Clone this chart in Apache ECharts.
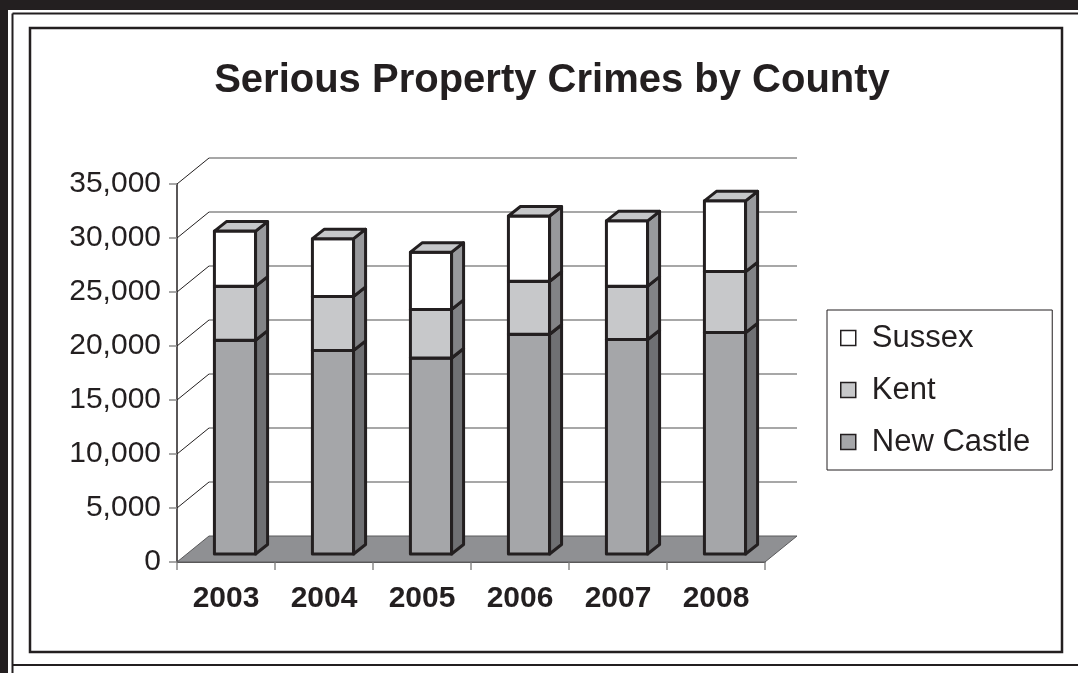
<!DOCTYPE html>
<html>
<head>
<meta charset="utf-8">
<title>Serious Property Crimes by County</title>
<script src="https://cdn.jsdelivr.net/npm/echarts@6/dist/echarts.min.js"></script>
<style>
  html, body { margin: 0; padding: 0; background: #ffffff; }
  #chart { width: 1078px; height: 673px; }
</style>
</head>
<body>
<div id="chart"></div>
<script>
// ---- data ----
const YEARS = ['2003', '2004', '2005', '2006', '2007', '2008'];
const NEW_CASTLE = [19800, 18850, 18150, 20350, 19850, 20500];
const KENT = [5000, 5000, 4500, 4900, 4950, 5650];
const SUSSEX = [5100, 5350, 5300, 6050, 6050, 6550];
const Y_TICKS = [5000, 10000, 15000, 20000, 25000, 30000, 35000];

// ---- look ----
const FONT = "'Liberation Sans', Arial, Helvetica, sans-serif";
const INK = '#231f20';
const WALL_DX = 32, WALL_DY = -26;      // back wall offset (oblique depth)
const BAR_DX = 9, BAR_DY = -8;          // bar front plane offset from front axis
const BAR_SIDE_X = 12, BAR_SIDE_Y = -9.5; // bar depth
const BAR_RATIO = 0.42;

const SERIES_STYLE = {
  'New Castle': { front: '#a5a6a9', side: '#6f7073', top: '#b4b5b8' },
  'Kent':       { front: '#c7c8ca', side: '#828386', top: '#c7c8ca' },
  'Sussex':     { front: '#ffffff', side: '#98999c', top: '#c6c7c9' }
};

// stacked segments [categoryIndex, base, top]
function stackSegments(values, bases) {
  return values.map((v, i) => [i, bases[i], bases[i] + v]);
}
const ncSeg = stackSegments(NEW_CASTLE, YEARS.map(() => 0));
const kentSeg = stackSegments(KENT, NEW_CASTLE);
const sussexSeg = stackSegments(SUSSEX, NEW_CASTLE.map((v, i) => v + KENT[i]));

function barRenderer(name) {
  const st = SERIES_STYLE[name];
  return function (params, api) {
    const i = api.value(0), lo = api.value(1), hi = api.value(2);
    const pLo = api.coord([i, lo]);
    const pHi = api.coord([i, hi]);
    const bw = api.size([1, 0])[0] * BAR_RATIO;
    const xl = pLo[0] + BAR_DX - bw / 2, xr = xl + bw;
    const yb = pLo[1] + BAR_DY, yt = pHi[1] + BAR_DY;
    const stroke = { stroke: INK, lineWidth: 3, lineJoin: 'round' };
    return {
      type: 'group',
      children: [
        { type: 'polygon', shape: { points: [[xl, yb], [xr, yb], [xr, yt], [xl, yt]] },
          style: Object.assign({ fill: st.front }, stroke) },
        { type: 'polygon', shape: { points: [[xr, yb], [xr + BAR_SIDE_X, yb + BAR_SIDE_Y], [xr + BAR_SIDE_X, yt + BAR_SIDE_Y], [xr, yt]] },
          style: Object.assign({ fill: st.side }, stroke) },
        { type: 'polygon', shape: { points: [[xl, yt], [xr, yt], [xr + BAR_SIDE_X, yt + BAR_SIDE_Y], [xl + BAR_SIDE_X, yt + BAR_SIDE_Y]] },
          style: Object.assign({ fill: st.top }, stroke) }
      ]
    };
  };
}

function barSeries(name, segs) {
  return {
    type: 'custom',
    name: name,
    z: 5,
    renderItem: barRenderer(name),
    encode: { x: 0, y: [1, 2] },
    itemStyle: { color: SERIES_STYLE[name].front, borderColor: INK, borderWidth: 1.5 },
    data: segs
  };
}

const chart = echarts.init(document.getElementById('chart'), null, { renderer: 'canvas' });

chart.setOption({
  backgroundColor: '#ffffff',
  animation: false,
  title: {
    text: 'Serious Property Crimes by County',
    left: 547,
    textAlign: 'center',
    top: 56,
    textStyle: { fontFamily: FONT, fontSize: 40, fontWeight: 'bold', color: INK }
  },
  legend: {
    orient: 'vertical',
    left: 827,
    top: 310,
    padding: [12, 22, 12, 13],
    itemGap: 20,
    itemWidth: 15,
    itemHeight: 15,
    icon: 'rect',
    borderColor: INK,
    borderWidth: 1,
    itemStyle: { borderColor: INK, borderWidth: 1.5 },
    data: ['Sussex', 'Kent', 'New Castle'],
    textStyle: { fontFamily: FONT, fontSize: 31, color: INK, lineHeight: 32, padding: [0, 0, 0, 11] }
  },
  grid: { left: 177, right: 313, top: 184, bottom: 111, containLabel: false },
  xAxis: {
    type: 'category',
    data: YEARS,
    boundaryGap: true,
    axisLine: { show: true, lineStyle: { color: INK, width: 1.5 } },
    axisTick: { show: true, length: 8, lineStyle: { color: '#8a8a8a', width: 1.5 } },
    axisLabel: { fontFamily: FONT, fontSize: 30, fontWeight: 'bold', color: INK, margin: 22 },
    splitLine: { show: false }
  },
  yAxis: {
    type: 'value',
    min: 0,
    max: 35000,
    interval: 5000,
    axisLine: { show: true, lineStyle: { color: INK, width: 1.5 } },
    axisTick: { show: true, length: 8, lineStyle: { color: '#8a8a8a', width: 1.5 } },
    axisLabel: {
      fontFamily: FONT, fontSize: 30, color: INK, margin: 16,
      formatter: v => v.toLocaleString('en-US')
    },
    splitLine: { show: false }
  },
  graphic: [
    // page frame around the chart
    { type: 'rect', shape: { x: 0, y: 0, width: 1078, height: 10 }, style: { fill: INK }, z: 100 },
    { type: 'rect', shape: { x: 0, y: 0, width: 8, height: 673 }, style: { fill: INK }, z: 100 },
    { type: 'line', shape: { x1: 12.5, y1: 13.5, x2: 1078, y2: 13.5 }, style: { stroke: INK, lineWidth: 2 }, z: 100 },
    { type: 'line', shape: { x1: 12.5, y1: 13.5, x2: 12.5, y2: 673 }, style: { stroke: INK, lineWidth: 2 }, z: 100 },
    { type: 'line', shape: { x1: 12.5, y1: 665, x2: 1078, y2: 665 }, style: { stroke: INK, lineWidth: 2 }, z: 100 },
    { type: 'rect', shape: { x: 30, y: 28, width: 1032, height: 624 }, style: { fill: null, stroke: INK, lineWidth: 2.5 }, z: 100 }
  ],
  series: [
    // wall gridlines: diagonal on the side wall, horizontal on the back wall
    {
      type: 'custom',
      z: 1,
      silent: true,
      renderItem: function (params, api) {
        const y = api.coord([0, api.value(1)])[1];
        const cs = params.coordSys;
        const x0 = cs.x, x1 = cs.x + cs.width;
        return {
          type: 'group',
          children: [
            { type: 'line', shape: { x1: x0, y1: y, x2: x0 + WALL_DX, y2: y + WALL_DY },
              style: { stroke: INK, lineWidth: 1 } },
            { type: 'line', shape: { x1: x0 + WALL_DX, y1: y + WALL_DY, x2: x1 + WALL_DX, y2: y + WALL_DY },
              style: { stroke: '#8a8a8a', lineWidth: 1.5 } }
          ]
        };
      },
      encode: { x: 0, y: 1 },
      data: Y_TICKS.map(v => [0, v])
    },
    // floor
    {
      type: 'custom',
      z: 2,
      silent: true,
      renderItem: function (params, api) {
        const y = api.coord([0, api.value(1)])[1];
        const cs = params.coordSys;
        const x0 = cs.x, x1 = cs.x + cs.width;
        return {
          type: 'polygon',
          shape: { points: [[x0, y], [x1, y], [x1 + WALL_DX, y + WALL_DY], [x0 + WALL_DX, y + WALL_DY]] },
          style: { fill: '#8f9093', stroke: '#5a5a5c', lineWidth: 1 }
        };
      },
      encode: { x: 0, y: 1 },
      data: [[0, 0]]
    },
    barSeries('New Castle', ncSeg),
    barSeries('Kent', kentSeg),
    barSeries('Sussex', sussexSeg)
  ]
});
</script>
</body>
</html>
